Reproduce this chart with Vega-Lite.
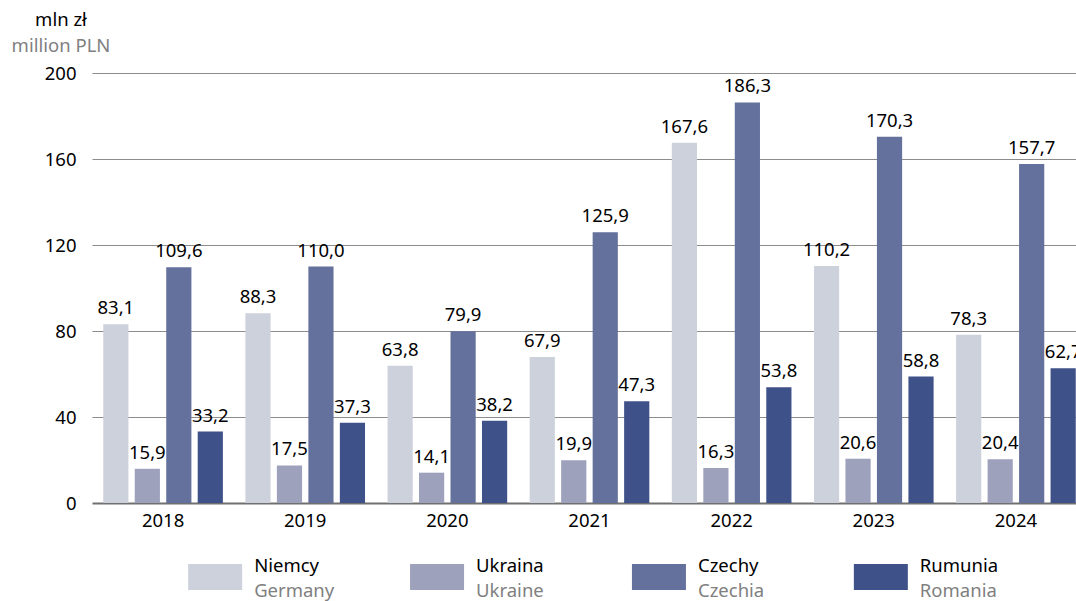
{
  "$schema": "https://vega.github.io/schema/vega-lite/v6.json",
  "padding": {"left": 11, "top": 11, "right": 0, "bottom": 0},
  "bounds": "flush",
  "spacing": 54,
  "config": {
    "font": "Noto Sans",
    "view": {"stroke": null},
    "locale": {"number": {"decimal": ",", "thousands": " ", "grouping": [3], "currency": ["", " zł"]}}
  },
  "vconcat": [
    {
      "width": 985,
      "height": 430,
      "title": {
        "text": "mln zł",
        "subtitle": "million PLN",
        "anchor": "start",
        "align": "center",
        "frame": "group",
        "dx": -31,
        "offset": 9,
        "font": "Noto Sans",
        "fontSize": 18.5,
        "fontWeight": "normal",
        "color": "#000000",
        "subtitleFont": "Noto Sans",
        "subtitleFontSize": 18.5,
        "subtitleColor": "#808080",
        "subtitlePadding": 7
      },
      "data": {
        "values": [
          {"year": "2018", "country": "Niemcy", "value": 83.1},
          {"year": "2018", "country": "Ukraina", "value": 15.9},
          {"year": "2018", "country": "Czechy", "value": 109.6},
          {"year": "2018", "country": "Rumunia", "value": 33.2},
          {"year": "2019", "country": "Niemcy", "value": 88.3},
          {"year": "2019", "country": "Ukraina", "value": 17.5},
          {"year": "2019", "country": "Czechy", "value": 110.0},
          {"year": "2019", "country": "Rumunia", "value": 37.3},
          {"year": "2020", "country": "Niemcy", "value": 63.8},
          {"year": "2020", "country": "Ukraina", "value": 14.1},
          {"year": "2020", "country": "Czechy", "value": 79.9},
          {"year": "2020", "country": "Rumunia", "value": 38.2},
          {"year": "2021", "country": "Niemcy", "value": 67.9},
          {"year": "2021", "country": "Ukraina", "value": 19.9},
          {"year": "2021", "country": "Czechy", "value": 125.9},
          {"year": "2021", "country": "Rumunia", "value": 47.3},
          {"year": "2022", "country": "Niemcy", "value": 167.6},
          {"year": "2022", "country": "Ukraina", "value": 16.3},
          {"year": "2022", "country": "Czechy", "value": 186.3},
          {"year": "2022", "country": "Rumunia", "value": 53.8},
          {"year": "2023", "country": "Niemcy", "value": 110.2},
          {"year": "2023", "country": "Ukraina", "value": 20.6},
          {"year": "2023", "country": "Czechy", "value": 170.3},
          {"year": "2023", "country": "Rumunia", "value": 58.8},
          {"year": "2024", "country": "Niemcy", "value": 78.3},
          {"year": "2024", "country": "Ukraina", "value": 20.4},
          {"year": "2024", "country": "Czechy", "value": 157.7},
          {"year": "2024", "country": "Rumunia", "value": 62.7}
        ]
      },
      "encoding": {
        "x": {
          "field": "year",
          "type": "nominal",
          "scale": {"range": [0, 995], "paddingInner": 0.114, "paddingOuter": 0.057},
          "axis": {
            "title": null,
            "labelAngle": 0,
            "labelFontSize": 18.5,
            "labelColor": "#000000",
            "labelPadding": 8,
            "ticks": false,
            "domain": false
          }
        },
        "xOffset": {
          "field": "country",
          "type": "nominal",
          "sort": ["Niemcy", "Ukraina", "Czechy", "Rumunia"],
          "scale": {"paddingInner": 0.2, "paddingOuter": 0.1}
        },
        "y": {
          "field": "value",
          "type": "quantitative",
          "scale": {"domain": [0, 200], "nice": false},
          "axis": {
            "title": null,
            "values": [0, 40, 80, 120, 160, 200],
            "domain": false,
            "ticks": false,
            "labelPadding": 16,
            "labelFontSize": 18.5,
            "labelColor": "#000000",
            "grid": true,
            "gridColor": {"condition": {"test": "datum.value === 0", "value": "#707070"}, "value": "#8c8c8c"},
            "gridWidth": {"condition": {"test": "datum.value === 0", "value": 2}, "value": 1}
          }
        }
      },
      "layer": [
        {
          "mark": {"type": "bar", "clip": true},
          "encoding": {
            "color": {
              "field": "country",
              "type": "nominal",
              "scale": {
                "domain": ["Niemcy", "Ukraina", "Czechy", "Rumunia"],
                "range": ["#cdd1dc", "#9da1bb", "#64719c", "#3e5189"]
              },
              "legend": null
            }
          }
        },
        {
          "mark": {"type": "text", "clip": true, "baseline": "alphabetic", "dy": -10, "fontSize": 18.5, "color": "#000000"},
          "encoding": {
            "text": {"field": "value", "type": "quantitative", "format": ".1f"}
          }
        }
      ]
    },
    {
      "width": 912,
      "height": 40,
      "data": {
        "values": [
          {"country": "Niemcy", "en": "Germany"},
          {"country": "Ukraina", "en": "Ukraine"},
          {"country": "Czechy", "en": "Czechia"},
          {"country": "Rumunia", "en": "Romania"}
        ]
      },
      "encoding": {
        "x": {
          "field": "country",
          "type": "nominal",
          "sort": ["Niemcy", "Ukraina", "Czechy", "Rumunia"],
          "scale": {"type": "point", "padding": 0.555},
          "axis": null
        }
      },
      "layer": [
        {
          "mark": {"type": "point", "shape": "M-1,-0.48H1V0.48H-1Z", "size": 2916, "filled": true, "opacity": 1, "strokeWidth": 0},
          "encoding": {
            "color": {
              "field": "country",
              "type": "nominal",
              "scale": {
                "domain": ["Niemcy", "Ukraina", "Czechy", "Rumunia"],
                "range": ["#cdd1dc", "#9da1bb", "#64719c", "#3e5189"]
              },
              "legend": null
            }
          }
        },
        {
          "mark": {"type": "text", "align": "left", "baseline": "middle", "dx": 39, "dy": -11, "fontSize": 18.5, "color": "#000000"},
          "encoding": {"text": {"field": "country", "type": "nominal"}}
        },
        {
          "mark": {"type": "text", "align": "left", "baseline": "middle", "dx": 39, "dy": 14, "fontSize": 18.5, "color": "#808080"},
          "encoding": {"text": {"field": "en", "type": "nominal"}}
        }
      ]
    }
  ]
}
